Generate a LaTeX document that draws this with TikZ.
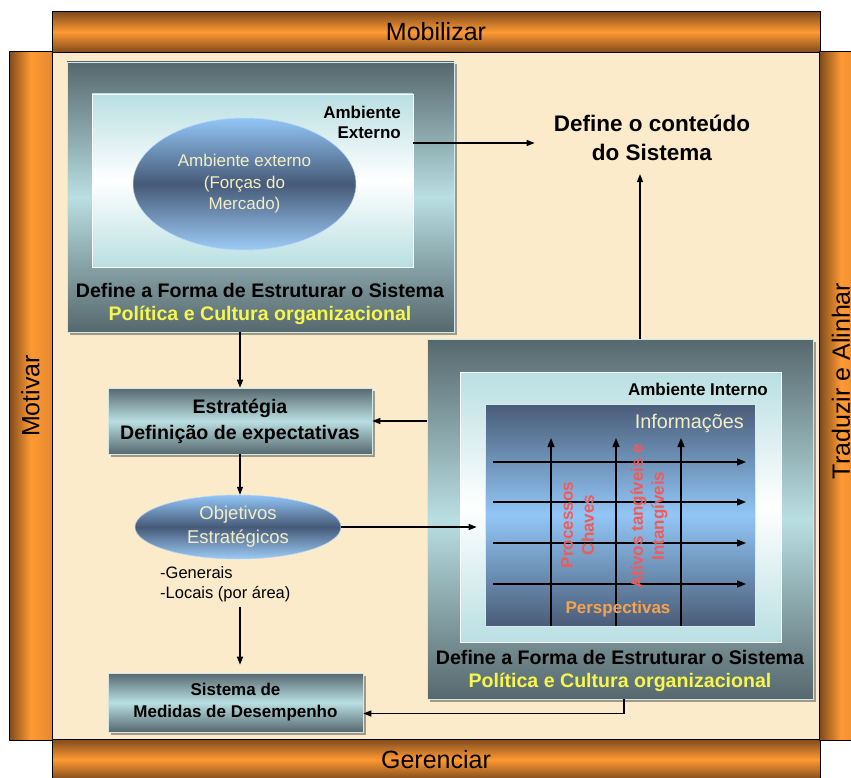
\documentclass[tikz,border=0pt]{standalone}
\usepackage{fontspec}
\setmainfont{Liberation Sans}
\usetikzlibrary{arrows.meta,shapes.geometric,shadows}

\definecolor{parch}{HTML}{FBEBCB}
\definecolor{barmid}{HTML}{FF9933}
\definecolor{bardark}{HTML}{7E4A1C}
\definecolor{slate}{HTML}{56686E}
\definecolor{paleteal}{HTML}{B9DFE2}
\definecolor{ovaldark}{HTML}{465A78}
\definecolor{ovallight}{HTML}{92C6F6}
\definecolor{griddark}{HTML}{4A5C78}
\definecolor{cream}{HTML}{F4EEC4}
\definecolor{polyellow}{HTML}{F6F64E}
\definecolor{redlabel}{HTML}{F25A5A}
\definecolor{orangelabel}{HTML}{F7A24C}

\newcommand{\fsz}[2]{\fontsize{#1}{#2}\selectfont}

\begin{document}
\begin{tikzpicture}[x=1pt,y=-1pt,
  conn/.style={-{Triangle[length=8pt,width=6pt]}, line width=1.2pt},
  gridarrow/.style={-{Triangle[length=9pt,width=7pt]}, line width=1.4pt},
  hbar/.style={draw=black, line width=1pt, top color=bardark, bottom color=bardark,
    middle color=barmid, minimum width=768pt, minimum height=41pt, inner sep=0pt},
  vbar/.style={draw=black, line width=1pt, left color=bardark, right color=barmid!80!bardark,
    middle color=barmid, minimum width=43pt, minimum height=688pt, inner sep=0pt},
  barlabel/.style={font=\fsz{25}{30}},
  slatebox/.style={top color=slate, bottom color=slate, middle color=paleteal,
    draw=paleteal!70!white, line width=0.6pt, inner sep=0pt,
    drop shadow={shadow xshift=2.5pt, shadow yshift=-2.5pt, fill=black, opacity=0.35}},
  palebox/.style={top color=paleteal, bottom color=paleteal, middle color=white,
    draw=white, line width=0.6pt, inner sep=0pt},
  gridbox/.style={top color=griddark, bottom color=griddark, middle color=ovallight,
    draw=paleteal!60!white, line width=0.6pt, inner sep=0pt},
  oval/.style={ellipse, top color=ovallight, bottom color=ovallight!90!white,
    middle color=ovaldark, draw=ovallight!70!white, line width=0.5pt, inner sep=0pt,
    text=cream, align=center},
  heading/.style={font=\bfseries\fsz{19.6}{24}},
  policy/.style={font=\bfseries\fsz{19.6}{24}, text=polyellow},
  tag/.style={font=\bfseries\fsz{17}{20}},
  vlabel/.style={rotate=90, align=center, font=\bfseries\fsz{17}{21}, text=redlabel}]

% page and parchment
\fill[white] (0,0) rectangle (851,778);
\useasboundingbox (0,0) rectangle (851,778);
\fill[parch] (52,52) rectangle (820,740);

% frame bars
\node[hbar] (topbar) at (436,32) {};
\node[barlabel] at (topbar) {Mobilizar};
\node[hbar] (botbar) at (436,759.5) {};
\node[barlabel] at (botbar) {Gerenciar};
\node[vbar] (leftbar) at (30.5,396) {};
\node[barlabel, rotate=90] at (leftbar) {Motivar};
\node[vbar] (rightbar) at (841,396) {};
\node[barlabel, rotate=90] at (841,381) {Traduzir e Alinhar};

% external environment block
\node[slatebox, minimum width=387pt, minimum height=270pt] (outerA) at (260.5,197) {};
\node[palebox, minimum width=321pt, minimum height=173pt] (innerA) at (252.5,180.5) {};
\node[oval, minimum width=223pt, minimum height=132pt, font=\fsz{17}{21.5}]
  (mercado) at (244.5,184) {Ambiente externo\\(Forças do\\Mercado)};
\node[tag, align=right, anchor=east, inner sep=0pt] (ambext) at (401,122) {Ambiente\\Externo};
\node[heading] (defA) at (260,290) {Define a Forma de Estruturar o Sistema};
\node[policy] (polA) at (260,315) {Política e Cultura organizacional};

% system content
\node[font=\bfseries\fsz{22.5}{29}, align=center, inner xsep=19pt, inner ysep=13pt]
  (conteudo) at (652,138) {Define o conteúdo\\do Sistema};

% internal environment block
\node[slatebox, minimum width=386pt, minimum height=360pt] (outerB) at (620,519) {};
\node[palebox, minimum width=321pt, minimum height=270pt] (innerB) at (620.5,507) {};
\node[gridbox, minimum width=270pt, minimum height=222pt] (grid) at (620,515) {};
\node[tag, anchor=east, inner sep=0pt] (ambint) at (768,389) {Ambiente Interno};
\node[font=\fsz{19.8}{24}, text=cream, anchor=east, inner sep=0pt] (info) at (744,423) {Informações};
\foreach \gx in {551,616,681}
  \draw[gridarrow] (\gx,626) -- (\gx,438);
\foreach \gy in {462,502,543,584}
  \draw[gridarrow] (493,\gy) -- (746,\gy);
\node[vlabel] (proc) at (577.5,525) {Processos\\Chaves};
\node[vlabel] (ativos) at (649,516) {Ativos tangíveis e\\Intangíveis};
\node[tag, text=orangelabel] (persp) at (618,609) {Perspectivas};
\node[heading] (defB) at (620,657) {Define a Forma de Estruturar o Sistema};
\node[policy] (polB) at (620,682) {Política e Cultura organizacional};

% strategy chain
\node[slatebox, minimum width=264pt, minimum height=66pt, align=center,
  font=\bfseries\fsz{19.6}{26}] (estrat) at (240,421) {Estratégia\\Definição de expectativas};
\node[oval, minimum width=206pt, minimum height=64pt, font=\fsz{18.5}{24}]
  (objet) at (238,527) {Objetivos\\Estratégicos};
\node[font=\fsz{16.5}{20}, align=left, anchor=west, inner sep=0pt] (lista) at (160,584)
  {-Generais\\-Locais (por área)};
\coordinate (listend) at (240,607);
\node[slatebox, minimum width=255pt, minimum height=59pt, align=center,
  font=\bfseries\fsz{17}{22}] (medidas) at (235.5,702.5) {Sistema de\\Medidas de Desempenho};

% connectors
\draw[conn] (innerA.east |- 0,143) -- (conteudo.west |- 0,143);
\draw[conn] (outerB.north -| 640,0) -- (conteudo.south -| 640,0);
\draw[conn] (outerA.south -| estrat.north) -- (estrat.north);
\draw[conn] (outerB.west |- estrat.east) -- (estrat.east);
\draw[conn] (estrat.south) -- (estrat.south |- objet.north);
\draw[conn, shorten >=8pt] (objet.east) -- (grid.west |- objet.east);
\draw[conn, shorten >=8pt] (listend) -- (listend |- medidas.north);
\draw[conn] ([xshift=4pt]outerB.south) |- ([yshift=-11pt]medidas.east);

\end{tikzpicture}
\end{document}
